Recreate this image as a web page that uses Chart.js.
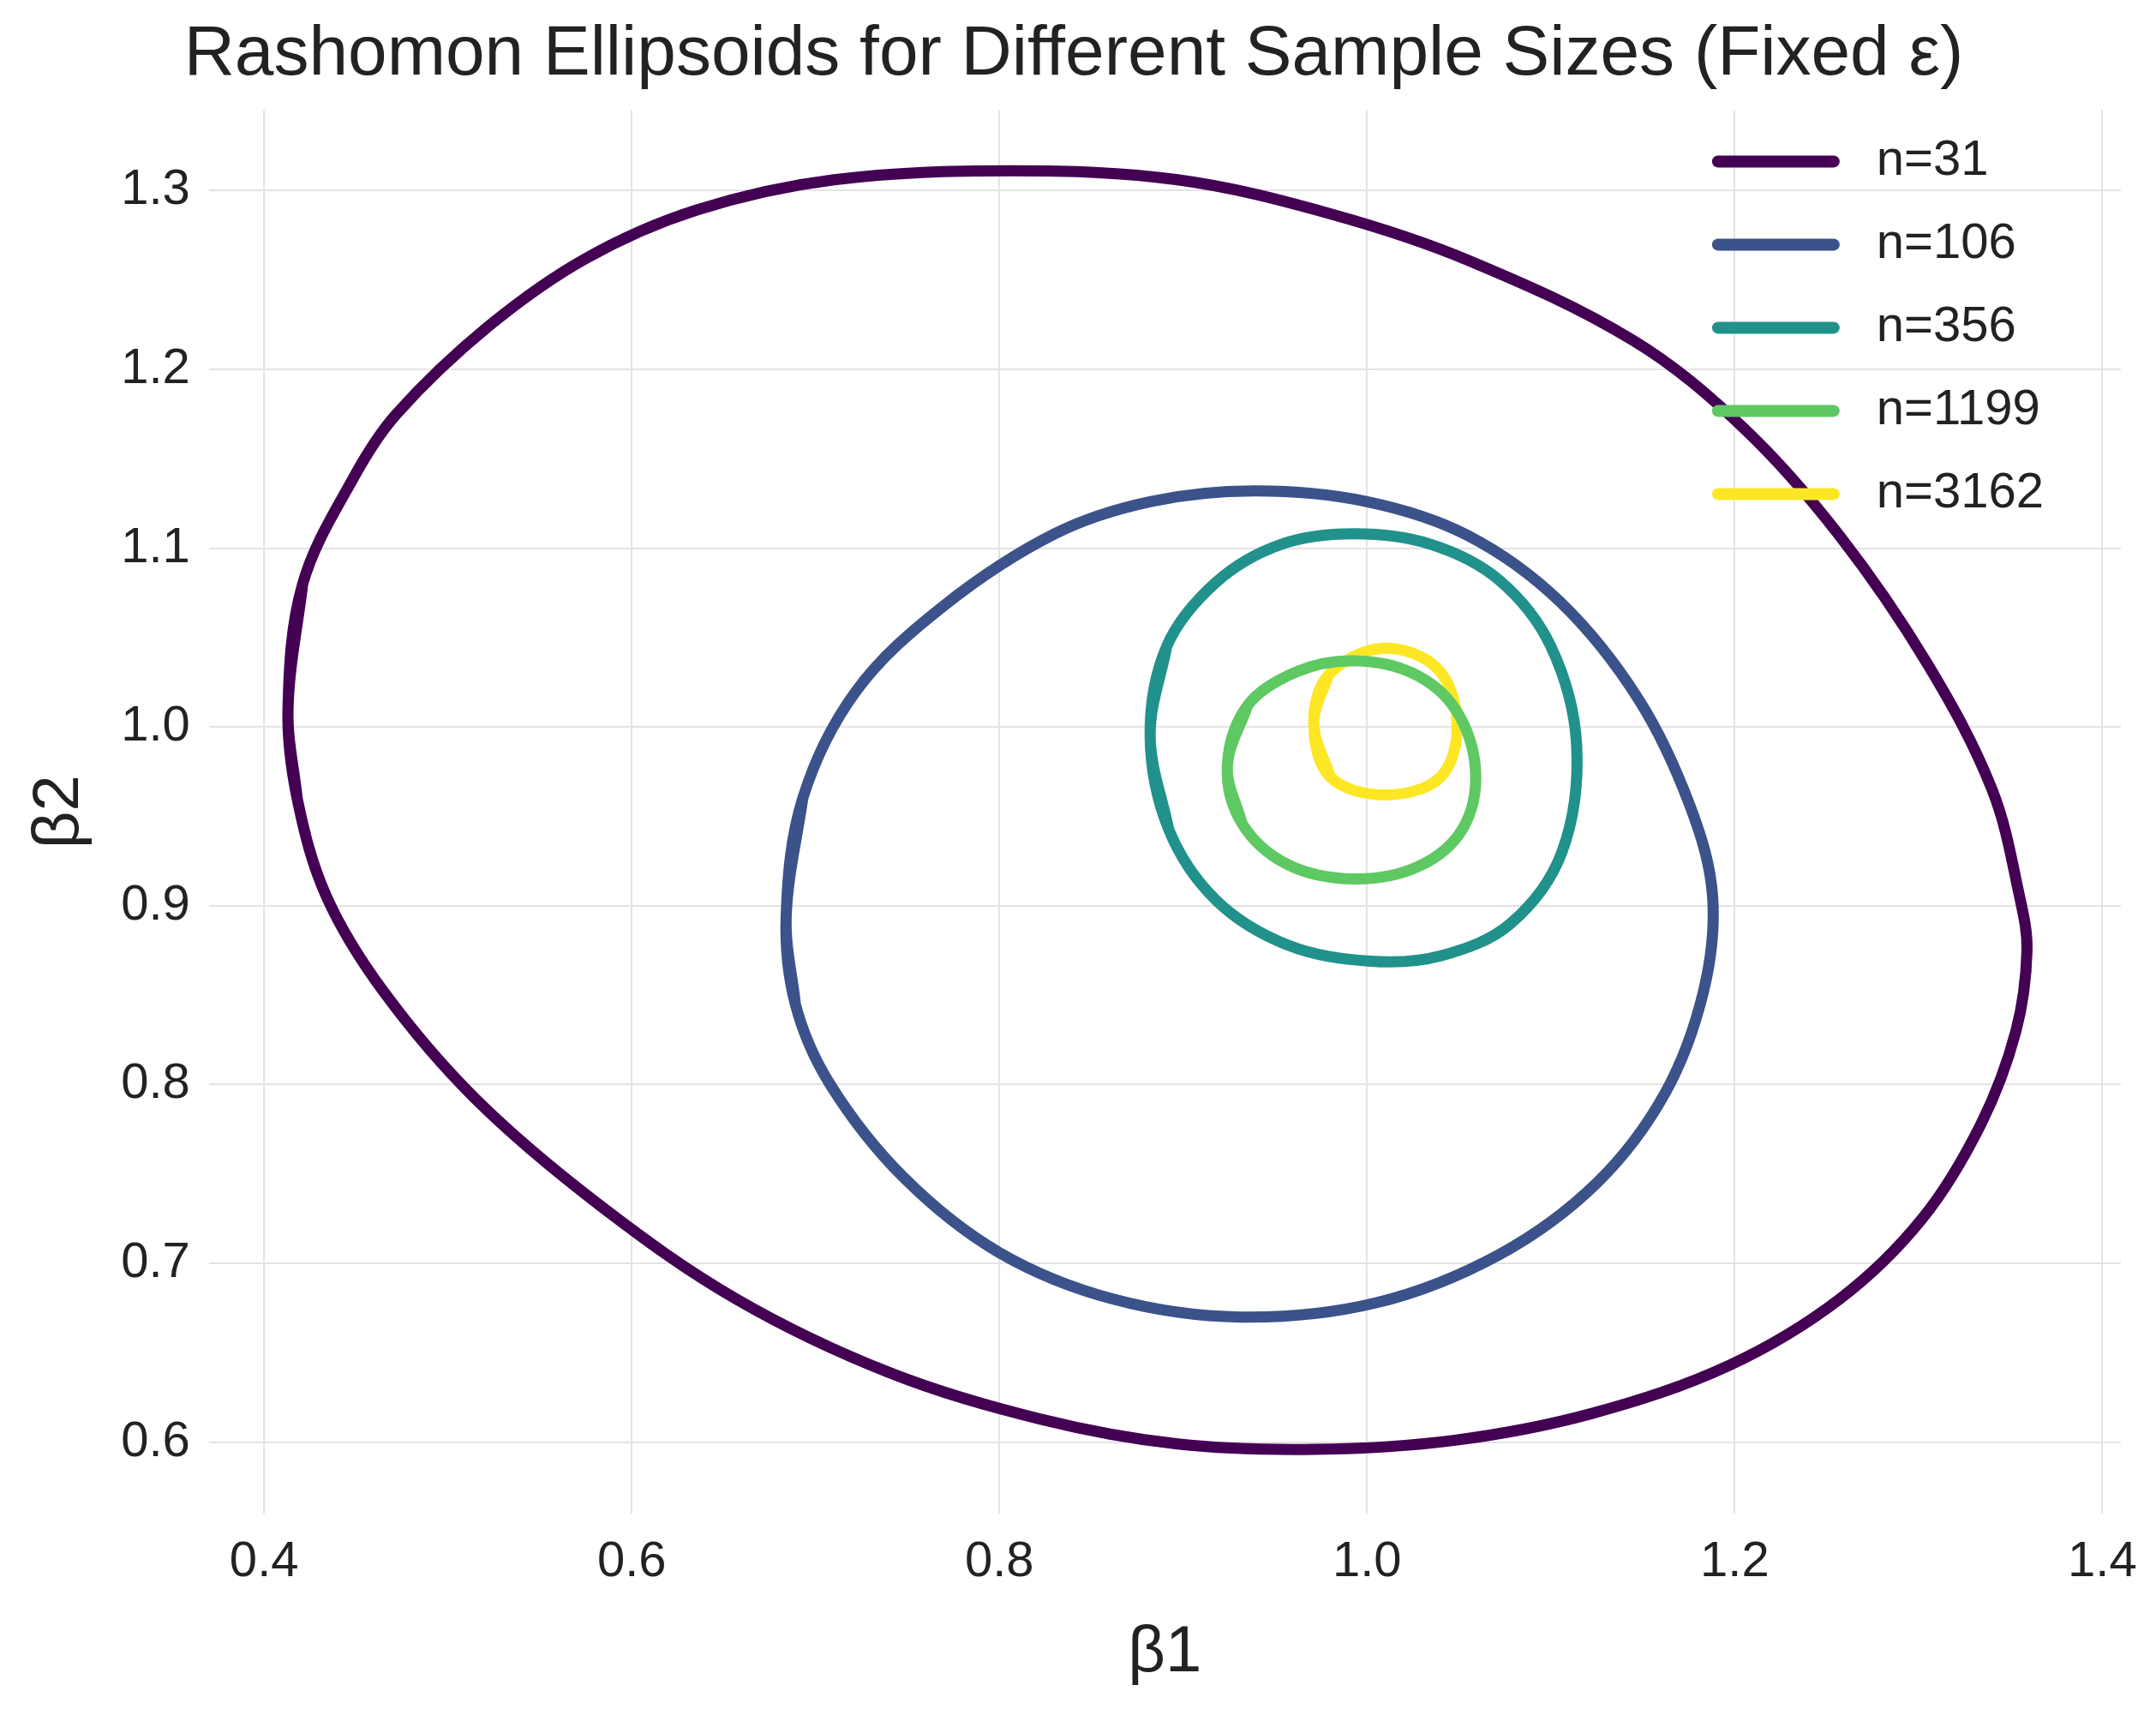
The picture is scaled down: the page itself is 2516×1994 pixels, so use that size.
<!DOCTYPE html>
<html><head><meta charset="utf-8">
<script src="https://cdn.jsdelivr.net/npm/chart.js@4/dist/chart.umd.min.js"></script>
<style>html,body{margin:0;background:#fff}#c{width:2516px;height:1994px}</style>
</head><body><div id="c"><canvas id="chart"></canvas></div>
<script>
// points, [beta1, beta2]
const n31 = [[0.413,1.01],[0.421,1.08],[0.449,1.14],[0.472,1.175],[0.522,1.224],[0.575,1.262],[0.635,1.289],[0.71,1.306],[0.807,1.311],[0.897,1.306],[0.98,1.287],[1.055,1.261],[1.145,1.216],[1.205,1.167],[1.257,1.107],[1.305,1.035],[1.34,0.965],[1.355,0.905],[1.359,0.875],[1.353,0.83],[1.334,0.778],[1.302,0.725],[1.257,0.68],[1.197,0.643],[1.122,0.616],[1.047,0.601],[0.972,0.596],[0.897,0.599],[0.822,0.613],[0.74,0.639],[0.657,0.68],[0.582,0.733],[0.515,0.792],[0.465,0.852],[0.434,0.905],[0.418,0.96],[0.413,1.01]];
const n106 = [[0.684,0.894],[0.693,0.96],[0.722,1.02],[0.77,1.068],[0.83,1.108],[0.882,1.126],[0.939,1.132],[1.0,1.126],[1.055,1.107],[1.105,1.07],[1.148,1.015],[1.176,0.955],[1.188,0.905],[1.183,0.852],[1.162,0.795],[1.125,0.745],[1.072,0.705],[1.005,0.678],[0.931,0.67],[0.862,0.68],[0.8,0.706],[0.748,0.748],[0.708,0.8],[0.689,0.845],[0.684,0.894]];
const n356 = [[0.882,0.995],[0.891,1.045],[0.918,1.081],[0.953,1.102],[0.993,1.108],[1.035,1.102],[1.072,1.082],[1.1,1.045],[1.114,0.99],[1.106,0.93],[1.078,0.89],[1.04,0.872],[1.002,0.869],[0.957,0.878],[0.918,0.903],[0.892,0.943],[0.882,0.995]];
const n1199 = [[0.924,0.978],[0.935,1.012],[0.962,1.031],[0.993,1.037],[1.025,1.03],[1.048,1.01],[1.059,0.976],[1.052,0.943],[1.028,0.922],[0.993,0.915],[0.957,0.923],[0.932,0.946],[0.924,0.978]];
const n3162 = [[0.971,1.002],[0.979,1.029],[1.008,1.044],[1.038,1.033],[1.049,1.002],[1.04,0.972],[1.01,0.962],[0.98,0.972],[0.971,1.002]];
const labels = ['n=31','n=106','n=356','n=1199','n=3162'];
const colors = ['#440154','#3b528b','#21918c','#5ec962','#fde725'];
const series = [n31,n106,n356,n1199,n3162];

const font = 'Arial, "Liberation Sans", sans-serif';

// wrap closed curves so the spline has neighbours at the seam
function closeLoop(pts) {
  const n = pts.length;
  return [pts[n - 2]].concat(pts, [pts[1]]).map(p => ({x: p[0], y: p[1]}));
}

const legendPlugin = {
  id: 'boxLegend',
  afterDraw(chart) {
    const ctx = chart.ctx, a = chart.chartArea;
    ctx.save();
    ctx.font = '58px ' + font;
    ctx.textBaseline = 'middle';
    chart.data.datasets.forEach((ds, i) => {
      const y = a.top + 60 + i * 97;
      const x0 = a.right - 470;
      ctx.strokeStyle = ds.borderColor;
      ctx.lineWidth = 14;
      ctx.lineCap = 'round';
      ctx.beginPath(); ctx.moveTo(x0, y); ctx.lineTo(x0 + 135, y); ctx.stroke();
      ctx.fillStyle = '#222';
      ctx.fillText(ds.label, x0 + 185, y);
    });
    ctx.restore();
  }
};

new Chart(document.getElementById('chart'), {
  type: 'scatter',
  data: {
    datasets: series.map((pts, i) => ({
      label: labels[i],
      data: closeLoop(pts),
      showLine: true,
      borderColor: colors[i],
      borderWidth: 13,
      pointRadius: 0,
      tension: 0.35,
      fill: false
    }))
  },
  options: {
    responsive: true,
    maintainAspectRatio: false,
    animation: false,
    layout: {padding: {left: 20, right: 30, top: 0, bottom: 15}},
    plugins: {
      legend: {display: false},
      tooltip: {enabled: false},
      title: {display: true, text: 'Rashomon Ellipsoids for Different Sample Sizes (Fixed ε)',
        color: '#222', font: {size: 82, family: font, weight: 'normal'}, padding: {top: 15, bottom: 15}}
    },
    scales: {
      x: {min: 0.37, max: 1.41,
        afterBuildTicks: s => { s.ticks = [0.4,0.6,0.8,1.0,1.2,1.4].map(v => ({value: v})); },
        ticks: {color: '#222', font: {size: 58, family: font}, padding: 22, callback: v => v.toFixed(1)},
        grid: {color: '#e3e3e3', lineWidth: 2, drawTicks: false},
        border: {display: false},
        title: {display: true, text: 'β1', color: '#222', font: {size: 76, family: font}}},
      y: {min: 0.56, max: 1.345,
        afterBuildTicks: s => { s.ticks = [0.6,0.7,0.8,0.9,1.0,1.1,1.2,1.3].map(v => ({value: v})); },
        ticks: {color: '#222', font: {size: 58, family: font}, padding: 22, callback: v => v.toFixed(1)},
        grid: {color: '#e3e3e3', lineWidth: 2, drawTicks: false},
        border: {display: false},
        title: {display: true, text: 'β2', color: '#222', font: {size: 76, family: font}}}
    }
  },
  plugins: [legendPlugin]
});
</script></body></html>
